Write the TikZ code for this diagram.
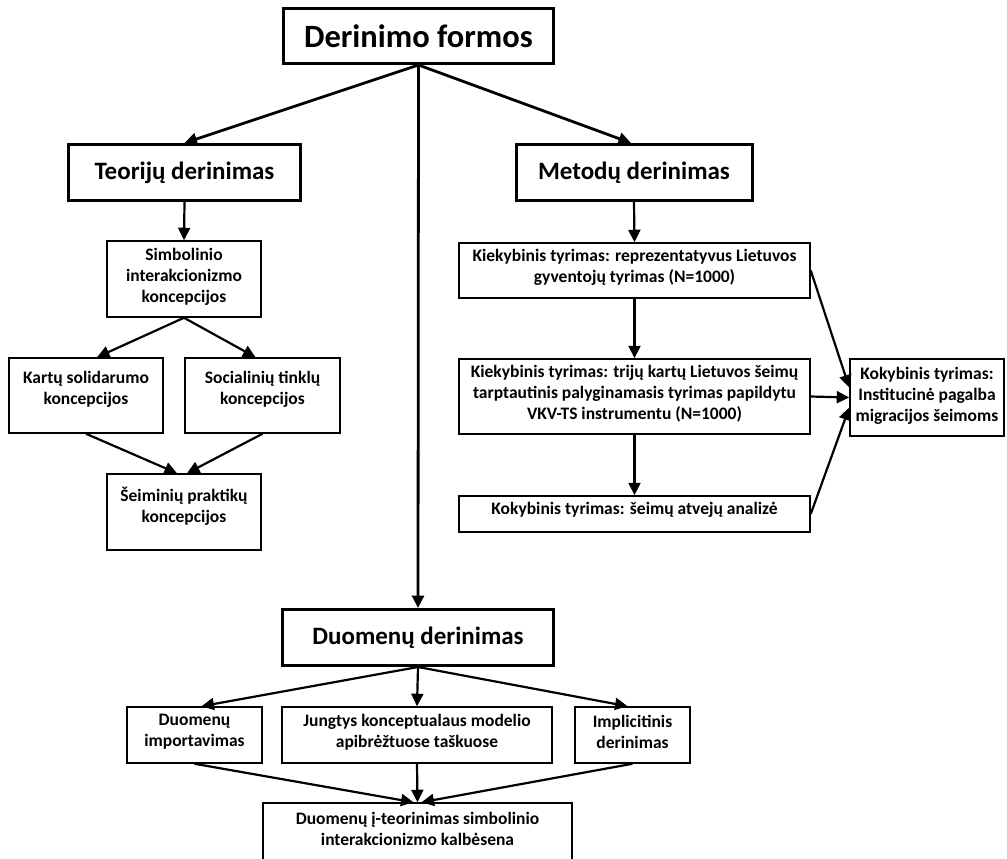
\documentclass[tikz,border=0pt]{standalone}
\usepackage{fontspec}
\setmainfont{Carlito}
\usetikzlibrary{arrows.meta,calc}
\tikzset{
  thinbox/.style={draw, line width=1.5pt, inner sep=0pt},
  thickbox/.style={draw, line width=3pt, inner sep=0pt},
  wh/.style 2 args={minimum width=#1pt, minimum height=#2pt},
  txt/.style={align=center, inner sep=0pt, font=\fontsize{17.5}{21}\selectfont\bfseries},
  ttl/.style={align=center, inner sep=0pt, font=\fontsize{25}{30}\selectfont\bfseries},
  arr/.style={-{Triangle[length=12.5pt,width=12pt]}, line width=2.2pt},
  mainarr/.style={-{Triangle[length=12.5pt,width=12pt]}, line width=2.8pt}
}
\begin{document}
\begin{tikzpicture}[x=1pt,y=-1pt]
\useasboundingbox (0,0) rectangle (1007,859);
\clip (0,0) rectangle (1007,859);
\fill[white] (0,0) rectangle (1007,859);

% level boxes
\node[thickbox, wh={270}{55}] (top) at (418.5,36) {};
\node[ttl, font=\fontsize{32.5}{38}\selectfont\bfseries] (top-t) at (top) {Derinimo formos};
\node[thickbox, wh={232}{56}] (teor) at (184.5,172.5) {};
\node[ttl] (teor-t) at (teor) {Teorijų derinimas};
\node[thickbox, wh={236}{56}] (met) at (634,172.5) {};
\node[ttl] (met-t) at (met) {Metodų derinimas};
\node[thickbox, wh={271}{56}] (duom) at (418,637.5) {};
\node[ttl] (duom-t) at (duom) {Duomenų derinimas};

% theory branch
\node[thinbox, wh={154}{76}] (simb) at (184,279) {};
\node[txt] (simb-t) at ($(simb)+(0,-2)$) {Simbolinio\\interakcionizmo\\koncepcijos};
\node[thinbox, wh={154}{75}] (kartu) at (86,395.5) {};
\node[txt] (kartu-t) at ($(kartu)+(0,-6)$) {Kartų solidarumo\\koncepcijos};
\node[thinbox, wh={155}{75}] (soc) at (262.5,395.5) {};
\node[txt] (soc-t) at ($(soc)+(0,-6)$) {Socialinių tinklų\\koncepcijos};
\node[thinbox, wh={154}{76}] (seim) at (184,512) {};
\node[txt] (seim-t) at ($(seim)+(0,-6)$) {Šeiminių praktikų\\koncepcijos};

% methods branch
\node[thinbox, wh={351}{55}] (kiek1) at (634.5,270.5) {};
\node[txt] (kiek1-t) at ($(kiek1)+(0,-3)$) {Kiekybinis tyrimas: reprezentatyvus Lietuvos\\gyventojų tyrimas (N=1000)};
\node[thinbox, wh={351}{75}] (kiek2) at (634.5,396.5) {};
\node[txt] (kiek2-t) at ($(kiek2)+(0,-2.5)$) {Kiekybinis tyrimas: trijų kartų Lietuvos šeimų\\tarptautinis palyginamasis tyrimas papildytu\\VKV-TS instrumentu (N=1000)};
\node[thinbox, wh={351}{36}] (atv) at (634.5,514) {};
\node[txt] (atv-t) at ($(atv)+(0,-4)$) {Kokybinis tyrimas: šeimų atvejų analizė};
\node[thinbox, wh={154}{77}] (kok) at (927,397.5) {};
\node[txt] (kok-t) at ($(kok)+(0,-2)$) {Kokybinis tyrimas:\\Institucinė pagalba\\migracijos šeimoms};

% data branch
\node[thinbox, wh={135}{56}] (imp) at (194.5,735) {};
\node[txt] (imp-t) at ($(imp)+(0,-3)$) {Duomenų\\importavimas};
\node[thinbox, wh={270}{56}] (jung) at (417,735) {};
\node[txt] (jung-t) at ($(jung)+(0,-3)$) {Jungtys konceptualaus modelio\\apibrėžtuose taškuose};
\node[thinbox, wh={115}{56}] (impl) at (632.5,735) {};
\node[txt] (impl-t) at ($(impl)+(0,-3)$) {Implicitinis\\derinimas};
\node[thinbox, wh={309}{84}] (fin) at (417.5,845) {};
\node[txt] (fin-t) at (417.5,829) {Duomenų į-teorinimas simbolinio\\interakcionizmo kalbėsena};

% connectors
\draw[mainarr] (top.south) -- (teor.north);
\draw[mainarr] (top.south) -- ($(met.north)+(-3,0)$);
\draw[mainarr] (top.south) -- (duom.north);

\draw[arr] (teor.south) -- (simb.north);
\draw[arr] (simb.south) -- ($(kartu.north)+(11,0)$);
\draw[arr] (simb.south) -- ($(soc.north)+(-7,0)$);
\draw[arr] (kartu.south) -- ($(seim.north)+(-7,0)$);
\draw[arr] (soc.south) -- ($(seim.north)+(3,0)$);

\draw[arr] (met.south) -- (kiek1.north);
\draw[arr] (kiek1.south) -- (kiek2.north);
\draw[arr] (kiek2.south) -- (atv.north);
\draw[arr] (kiek1.east) -- ($(kok.west)+(0,-10)$);
\draw[arr] (kiek2.east) -- (kok.west);
\draw[arr] (atv.east) -- ($(kok.west)+(0,10)$);

\draw[arr] (duom.south) -- ($(imp.north)+(7,0)$);
\draw[arr] (duom.south) -- (jung.north);
\draw[arr] (duom.south) -- ($(impl.north)+(-5,0)$);
\draw[arr] (imp.south) -- ($(fin.north)+(-4,0)$);
\draw[arr] (jung.south) -- (fin.north);
\draw[arr] (impl.south) -- ($(fin.north)+(4,0)$);
\end{tikzpicture}
\end{document}
